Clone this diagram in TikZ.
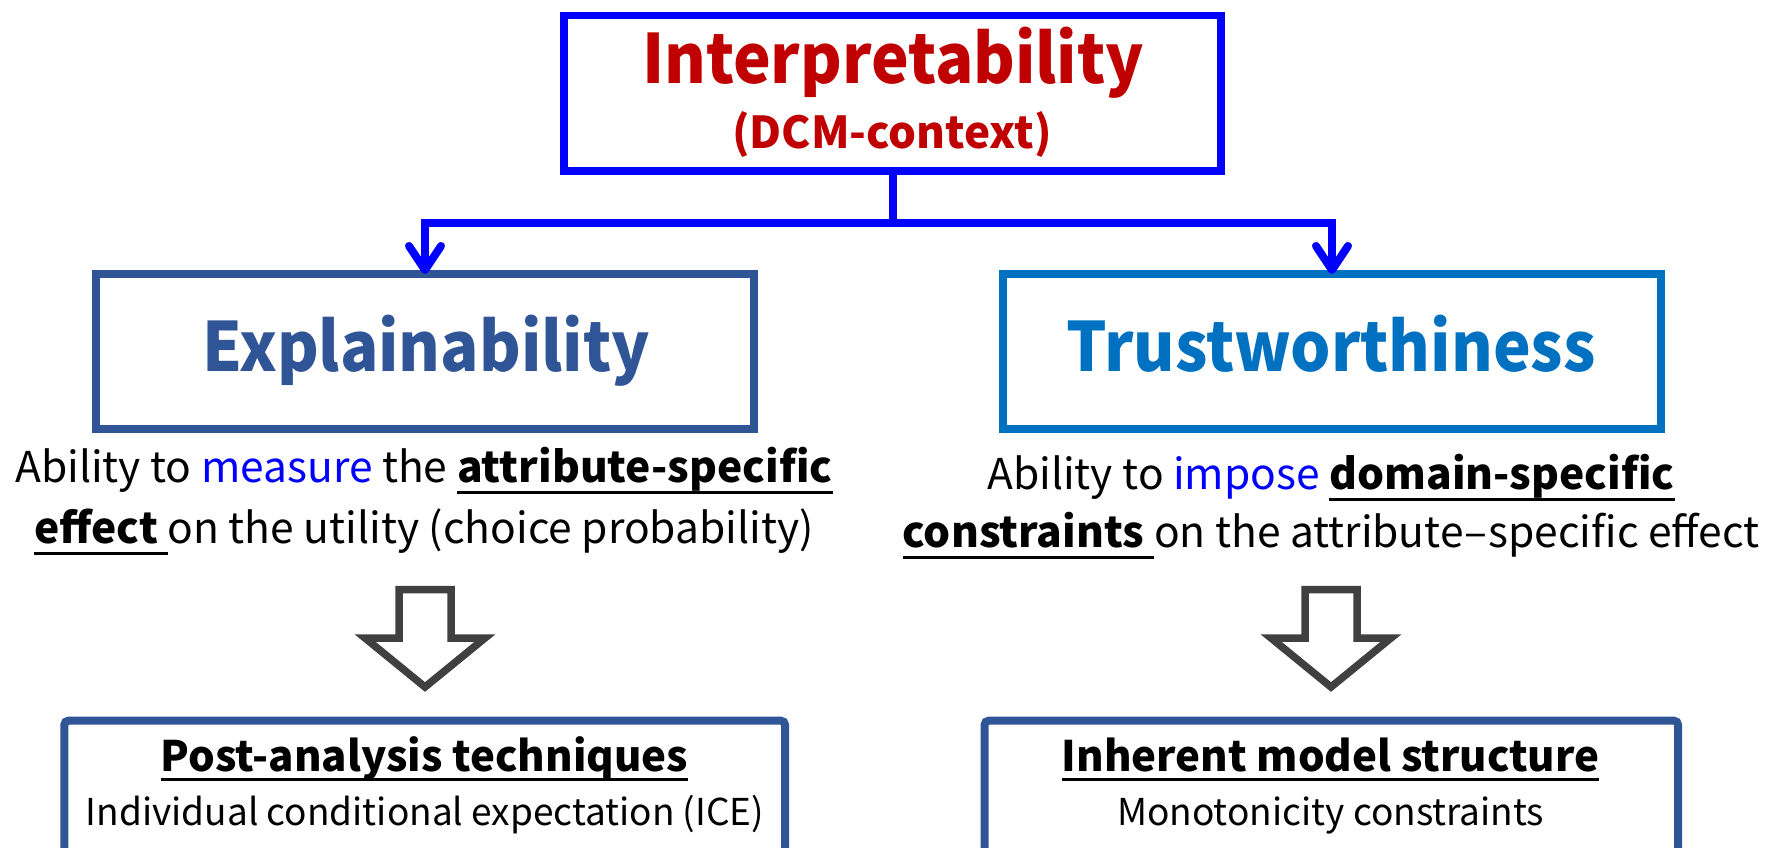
\documentclass[tikz,border=0pt]{standalone}
\usepackage{fontspec}
\setmainfont{Noto Sans CJK KR}
\usetikzlibrary{arrows.meta}

\definecolor{linkblue}{HTML}{0000FF}
\definecolor{titlered}{HTML}{C00000}
\definecolor{navyblue}{HTML}{2F5597}
\definecolor{azureblue}{HTML}{0070C0}
\definecolor{arrowgray}{HTML}{404040}

% underline with a fixed depth below the baseline
\newcommand{\uln}[2][10pt]{\setbox0\hbox{#2}\rlap{\rule[\dimexpr-#1-1.5pt\relax]{\wd0}{3pt}}\box0}
\newcommand{\fsz}[1]{\fontsize{#1}{#1}\selectfont}
% slightly condensed heading text
\newcommand{\narrow}[1]{\scalebox{0.935}[1]{#1}}

\tikzset{
  every node/.style={inner sep=0pt, outer sep=0pt},
  topbox/.style={draw=linkblue, line width=7.5pt, minimum width=657pt, minimum height=155.7pt},
  midbox/.style={line width=8pt, minimum width=658pt, minimum height=155pt},
  lowbox/.style={draw=navyblue, fill=white, line width=8pt, rounded corners=4pt, minimum height=180pt},
  link/.style={draw=linkblue, line width=8pt},
  barb/.tip={Straight Barb[round, length=24pt, width=32pt]},
  hollow/.style={draw=arrowgray, fill=white, line width=7.5pt, line join=miter},
  bigtitle/.style={anchor=base, font=\bfseries\fsz{68}},
  desc/.style={anchor=base, font=\fsz{42.5}},
  lowtitle/.style={anchor=base, font=\bfseries\fsz{42}},
  lowtext/.style={anchor=base, font=\fsz{37}},
  downarrow/.pic={
    \path[hollow] (-26,0) -- (26,0) -- (26,48.5) -- (60,48.5) -- (0,97.5)
      -- (-60,48.5) -- (-26,48.5) -- cycle;
  },
}

\begin{document}
\begin{tikzpicture}[x=1pt, y=-1pt]
\useasboundingbox (0,0) rectangle (1767,848);
\clip (0,0) rectangle (1767,848);

% top concept
\node[topbox] (interp) at (892.5,93.15) {};
\node[bigtitle, text=titlered] (interpT) at (893,83.3) {\narrow{Interpretability}};
\node[anchor=base, text=titlered, font=\bfseries\fsz{44}] (interpS) at (892,149) {(DCM-context)};

% two aspects
\node[midbox, draw=navyblue] (expl) at (425,351.5) {};
\node[bigtitle, text=navyblue] (explT) at (426,371) {\narrow{Explainability}};
\node[midbox, draw=azureblue] (trust) at (1332,351.5) {};
\node[bigtitle, text=azureblue] (trustT) at (1331,371.7) {\narrow{Trustworthiness}};

% branching connector
\coordinate (split) at (892.5,222.5);
\draw[link] (interp.south) -- (split);
\draw[link, {barb}-{barb}] (expl.north) |- (split) -| (trust.north);

% descriptions
\node[desc] (explD1) at (424,482) {Ability to {\color{linkblue}measure} the \uln{\bfseries attribute-specific}};
\node[desc] (explD2) at (424,543) {\uln{\bfseries effect\ }on the utility (choice probability)};
\node[desc] (trustD1) at (1331,489) {Ability to {\color{linkblue}impose} \uln{\bfseries domain-specific}};
\node[desc] (trustD2) at (1331,547) {\uln{\bfseries constraints\ }on the attribute\kern1pt–\kern1pt specific effect};

% hollow arrows
\pic at (425,589.5) {downarrow};
\pic at (1331,589.5) {downarrow};

% approaches
\node[lowbox, minimum width=720.6pt] (post) at (424.7,810.7) {};
\node[lowtitle] (postT) at (424.5,771.7) {\uln[8pt]{Post-analysis techniques}};
\node[lowtext] (postS) at (425,825) {Individual conditional expectation (ICE)};
\node[lowbox, minimum width=693.4pt] (inher) at (1331.3,810.7) {};
\node[lowtitle] (inherT) at (1330.5,771.7) {\uln[8pt]{Inherent model structure}};
\node[lowtext] (inherS) at (1330.7,825) {Monotonicity constraints};
\end{tikzpicture}
\end{document}
